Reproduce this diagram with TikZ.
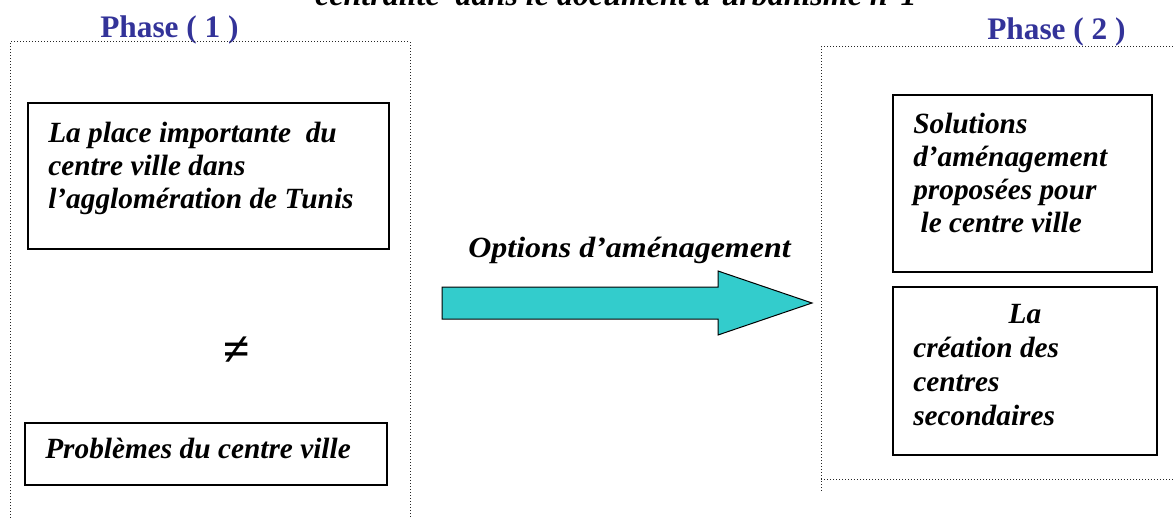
\documentclass[tikz,border=0pt]{standalone}
\usepackage{fontspec}
\setmainfont{Liberation Serif}
\usetikzlibrary{fit}
\definecolor{phaseblue}{HTML}{333399}
\definecolor{arrowcyan}{HTML}{33CCCC}
\begin{document}
\begin{tikzpicture}[x=0.75pt,y=-0.75pt,
  frame/.style={draw=black!85, line width=0.75pt, dash pattern=on 0.75pt off 1.5pt},
  box/.style={draw=black, line width=1.5pt, rectangle, inner sep=0pt},
  boxtext/.style={font=\fontsize{22}{24.75}\selectfont\bfseries\itshape, align=left, inner sep=0pt, anchor=base west},
  phase/.style={font=\fontsize{23.5}{27}\selectfont\bfseries, text=phaseblue, inner sep=0pt, anchor=base west},
  bigarrow/.style={fill=arrowcyan, draw=black, line width=0.75pt, line join=miter}]
\useasboundingbox (0,0) rectangle (1173,517);
\clip (0,0) rectangle (1173,517);

% title (cut by the top edge)
\node[boxtext, font=\fontsize{24}{28}\selectfont\bfseries\itshape] (title) at (315,6) {centralité\ \ dans le document d’urbanisme n°1};

% phase labels
\node[phase] (ph1) at (100,38) {Phase ( 1 )};
\node[phase] (ph2) at (987,40) {Phase ( 2 )};

% dotted frames
\draw[frame] (10,530) -- (10,42) -- (410,42) -- (410,530);
\draw[frame] (1185,47) -- (821,47) -- (821,492);
\draw[frame] (821,479) -- (1185,479);

% phase 1 boxes
\node[box, fit={(28,103) (389,249)}] (b1) {};
\node[boxtext] (t1) at (48,208) {La place importante\ \ du\\centre ville dans\\l’agglomération de Tunis};

\node[font=\fontsize{36}{40}\selectfont\bfseries, inner sep=0pt] (neq) at (237,351) {≠};

\node[box, fit={(25,423) (387,485)}] (b2) {};
\node[boxtext] (t2) at (45,458) {Problèmes du centre ville};

% arrow
\node[boxtext, font=\fontsize{22}{26}\selectfont\bfseries\itshape, xscale=1.09, transform shape] (opt) at (468,257) {Options d’aménagement};
\draw[bigarrow] (442,287) -- (718,287) -- (718,271) -- (812,303) -- (718,335) -- (718,319) -- (442,319) -- cycle;

% phase 2 boxes
\node[box, fit={(893,95) (1152,272)}] (b3) {};
\node[boxtext] (t3) at (913,232) {Solutions\\d’aménagement\\proposées pour\\\ le centre ville};

\node[box, fit={(893,287) (1157,455)}] (b4) {};
\node[boxtext, font=\fontsize{22}{25.3}\selectfont\bfseries\itshape] (t4) at (913,425) {\hspace*{71.5pt}La\\création des\\centres\\secondaires};
\end{tikzpicture}
\end{document}
